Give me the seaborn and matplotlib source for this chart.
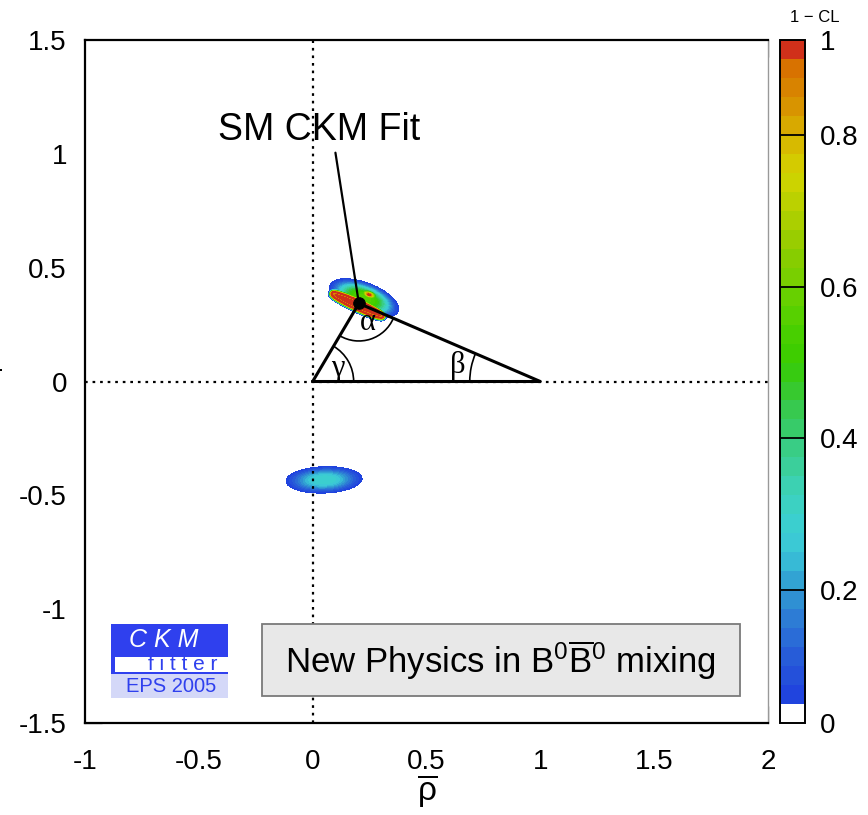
import numpy as np
import matplotlib
matplotlib.use("Agg")
import matplotlib.pyplot as plt
import seaborn as sns
from matplotlib.colors import ListedColormap, BoundaryNorm, LinearSegmentedColormap
from matplotlib.patches import Arc, Rectangle

# ---------------- data ----------------
# colour levels of 1 - CL
cl_levels = [0.0, 0.05, 0.075, 0.1, 0.125, 0.15, 0.175, 0.2, 0.225, 0.25, 0.275,
             0.3, 0.325, 0.35, 0.375, 0.4, 0.425, 0.45, 0.475, 0.5, 0.525, 0.55,
             0.575, 0.6, 0.625, 0.65, 0.675, 0.7, 0.725, 0.75, 0.775, 0.8, 0.825,
             0.85, 0.875, 0.9, 1.0]
cbar_ticks = [0, 0.2, 0.4, 0.6, 0.8, 1]
cbar_ticklabels = ["0", "0.2", "0.4", "0.6", "0.8", "1"]

# allowed regions (elliptical blobs)
blob_cx = [0.226, 0.248, 0.05]
blob_cy = [0.366, 0.382, -0.432]
blob_a = [0.160, 0.058, 0.167]
blob_b = [0.068, 0.026, 0.058]
blob_ang = [-21.0, -20.0, 2.0]
blob_peak = [0.56, 0.93, 0.30]
blob_pow = [3.0, 2.0, 2.5]

# high-CL ring around the SM solution
ring_cx, ring_cy = 0.197, 0.336
ring_a, ring_b, ring_ang = 0.118, 0.013, -24.5
ring_peak, ring_dip = 0.97, 0.21

# unitarity triangle
tri_rho = [0.0, 1.0, 0.203, 0.0]
tri_eta = [0.0, 0.0, 0.343, 0.0]
apex_rho, apex_eta = 0.203, 0.343
fit_label_xy = (0.03, 1.105)
fit_line_start = (0.100, 1.005)

xticks = [-1, -0.5, 0, 0.5, 1, 1.5, 2]
xticklabels = ["-1", "-0.5", "0", "0.5", "1", "1.5", "2"]
yticks = [-1.5, -1, -0.5, 0, 0.5, 1, 1.5]
yticklabels = ["-1.5", "-1", "-0.5", "0", "0.5", "1", "1.5"]

# ---------------- field ----------------
xg = np.linspace(-1, 2, 901)
yg = np.linspace(-1.5, 1.5, 901)
X, Y = np.meshgrid(xg, yg)
Z = np.zeros_like(X)


def rot(Xa, Ya, cx, cy, ang):
    t = np.deg2rad(ang)
    u = (Xa - cx) * np.cos(t) + (Ya - cy) * np.sin(t)
    v = -(Xa - cx) * np.sin(t) + (Ya - cy) * np.cos(t)
    return u, v


def blob(cx, cy, a, b, ang, peak, pw, floor=0.05):
    u, v = rot(X, Y, cx, cy, ang)
    r = np.sqrt((u / a) ** 2 + (v / b) ** 2)
    return peak * (peak / floor) ** (-(r ** pw))


for i in range(len(blob_cx)):
    Z = np.maximum(Z, blob(blob_cx[i], blob_cy[i], blob_a[i], blob_b[i],
                           blob_ang[i], blob_peak[i], blob_pow[i]))

# ring: distance to an ellipse curve
tt = np.linspace(0, 2 * np.pi, 600)
th = np.deg2rad(ring_ang)
ex = ring_cx + ring_a * np.cos(tt) * np.cos(th) - ring_b * np.sin(tt) * np.sin(th)
ey = ring_cy + ring_a * np.cos(tt) * np.sin(th) + ring_b * np.sin(tt) * np.cos(th)
ix = (xg > ring_cx - 0.25) & (xg < ring_cx + 0.25)
iy = (yg > ring_cy - 0.2) & (yg < ring_cy + 0.2)
Xs, Ys = np.meshgrid(xg[ix], yg[iy])
d2 = np.full(Xs.shape, 1e9)
for px, py in zip(ex, ey):
    d2 = np.minimum(d2, (Xs - px) ** 2 + (Ys - py) ** 2)
d = np.sqrt(d2)
us, vs = rot(Xs, Ys, ring_cx, ring_cy, ring_ang)
inside = (us / ring_a) ** 2 + (vs / ring_b) ** 2 < 1
ring = np.where(inside, ring_peak, ring_peak * np.exp(-(d / 0.015) ** 4))
ring = ring - ring_dip * np.exp(-(d / 0.0035) ** 2)
sub = Z[np.ix_(iy, ix)]
Z[np.ix_(iy, ix)] = np.maximum(sub, ring)
Z = np.clip(Z, 0, 0.99)

# ---------------- colours ----------------
anchors = [(0.05, '#1f3fe0'), (0.1, '#2656d8'), (0.15, '#2c74d6'), (0.2, '#309ad2'),
           (0.25, '#3ac6d8'), (0.3, '#3cd2cc'), (0.35, '#3cd0a8'), (0.4, '#38cc78'),
           (0.45, '#36c840'), (0.5, '#38cc00'), (0.55, '#4ed000'), (0.6, '#70d000'),
           (0.65, '#90cc00'), (0.7, '#b2d000'), (0.75, '#d2d400'), (0.8, '#d8b400'),
           (0.85, '#d88c00'), (0.9, '#d86c00')]
lo, hi = anchors[0][0], anchors[-1][0]
cm = LinearSegmentedColormap.from_list(
    "ckm", [((v - lo) / (hi - lo), c) for v, c in anchors])
band_colors = ['#ffffff']
for k in range(1, len(cl_levels) - 2):
    mid = 0.5 * (cl_levels[k] + cl_levels[k + 1])
    band_colors.append(cm((mid - lo) / (hi - lo)))
band_colors.append('#d0301a')
cmap = ListedColormap(band_colors)
norm = BoundaryNorm(cl_levels, cmap.N)

# ---------------- figure ----------------
sns.set_style("ticks")
plt.rcParams['font.family'] = ['Liberation Sans', 'DejaVu Sans']
plt.rcParams['axes.unicode_minus'] = False
plt.rcParams['mathtext.fontset'] = 'custom'
plt.rcParams['mathtext.rm'] = 'Liberation Sans'
plt.rcParams['mathtext.it'] = 'Liberation Sans:italic'
for key in ['text.color', 'axes.labelcolor', 'xtick.color', 'ytick.color']:
    plt.rcParams[key] = 'black'

fig = plt.figure(figsize=(8.68, 8.15), dpi=100)
ax = fig.add_axes([85 / 868, 1 - 723 / 815, 683 / 868, 683 / 815])
cax = fig.add_axes([780 / 868, 1 - 723 / 815, 25 / 868, 683 / 815])

cf = ax.contourf(X, Y, Z, levels=cl_levels, cmap=cmap, norm=norm, zorder=1)

ax.axvline(0, color='black', ls=(0, (1.2, 2.2)), lw=1.6, zorder=2)
ax.axhline(0, color='black', ls=(0, (1.2, 2.2)), lw=1.6, zorder=2)

sns.lineplot(x=tri_rho, y=tri_eta, sort=False, estimator=None, color='black',
             lw=2.2, ax=ax, zorder=4)
ax.plot([fit_line_start[0], apex_rho], [fit_line_start[1], apex_eta],
        color='black', lw=1.6, zorder=4)
sns.scatterplot(x=[apex_rho], y=[apex_eta], color='black', s=70, ax=ax, zorder=5,
                edgecolor='black')

ang_apex = np.degrees(np.arctan2(apex_eta, apex_rho))
ang_beta = np.degrees(np.arctan2(apex_eta, apex_rho - 1.0))
ax.add_patch(Arc((0, 0), 0.36, 0.36, theta1=0, theta2=ang_apex, color='black',
                 lw=1.2, zorder=4))
ax.add_patch(Arc((1, 0), 0.62, 0.62, theta1=ang_beta, theta2=180, color='black',
                 lw=1.2, zorder=4))
a1 = np.degrees(np.arctan2(-apex_eta, -apex_rho)) % 360
a2 = np.degrees(np.arctan2(-apex_eta, 1 - apex_rho)) % 360
ax.add_patch(Arc((apex_rho, apex_eta), 0.33, 0.33, theta1=a1, theta2=a2,
                 color='black', lw=1.2, zorder=4))
gfont = dict(family=['Liberation Serif', 'DejaVu Serif'], fontsize=22, zorder=6)
ax.text(0.112, 0.058, 'γ', ha='center', va='center', **gfont)
ax.text(0.637, 0.070, 'β', ha='center', va='center', **gfont)
ax.text(0.243, 0.258, 'α', ha='center', va='center', **gfont)

ax.text(fit_label_xy[0], fit_label_xy[1], 'SM CKM Fit', fontsize=27,
        ha='center', va='center', zorder=6)

# New physics box
ax.add_patch(Rectangle((-0.223, -1.381), 2.1, 0.316, facecolor='#e8e8e8',
                       edgecolor='#7a7a7a', lw=1.3, zorder=6))
ax.text(0.827, -1.225, r'New Physics in B$^0\overline{\mathrm{B}}^0$ mixing',
        fontsize=25, ha='center', va='center', zorder=7)

# CKMfitter logo
blue = '#2f40ee'
ax.add_patch(Rectangle((-0.886, -1.285), 0.514, 0.22, facecolor=blue,
                       edgecolor='none', zorder=6))
ax.add_patch(Rectangle((-0.869, -1.274), 0.497, 0.062, facecolor='white',
                       edgecolor='none', zorder=7))
ax.add_patch(Rectangle((-0.886, -1.390), 0.514, 0.105, facecolor='#d4d8f8',
                       edgecolor='none', zorder=6))
ax.text(-0.652, -1.136, 'C K M', color='white', fontsize=18, style='italic',
        ha='center', va='center', zorder=8)
ax.text(-0.572, -1.243, 'f i t t e r', color=blue, fontsize=15,
        ha='center', va='center', zorder=8)
ax.text(-0.622, -1.340, 'EPS 2005', color=blue, fontsize=14.5,
        ha='center', va='center', zorder=8)

ax.set_xlim(-1, 2)
ax.set_ylim(-1.5, 1.5)
ax.set_xticks(xticks)
ax.set_xticklabels(xticklabels)
ax.set_yticks(yticks)
ax.set_yticklabels(yticklabels)
ax.set_xticks(np.arange(-1, 2.001, 0.1), minor=True)
ax.set_yticks(np.arange(-1.5, 1.501, 0.1), minor=True)
ax.tick_params(which='major', direction='in', length=12, width=0.9,
               top=True, right=False, labelsize=20, color='#333333')
ax.tick_params(axis='x', which='major', pad=19)
ax.tick_params(axis='y', which='major', pad=13)
ax.tick_params(which='minor', direction='in', length=6, width=0.9,
               top=True, right=False, color='#333333')
for s in ['left', 'bottom', 'top']:
    ax.spines[s].set_linewidth(1.6)
    ax.spines[s].set_color('black')
ax.spines['right'].set_linewidth(1.0)
ax.spines['right'].set_color('#999999')
ax.spines['right'].set_visible(True)
ax.spines['top'].set_visible(True)

ax.set_xlabel(r'$\overline{\mathrm{ρ}}$', fontsize=24, va='center')
ax.xaxis.set_label_coords(0.502, -0.099)
ax.set_ylabel(r'$\overline{\mathrm{η}}$', fontsize=24, rotation=0, ha='center',
              va='center')
ax.yaxis.set_label_coords(-0.137, 0.497)

# colour bar
cb = fig.colorbar(cf, cax=cax, ticks=cbar_ticks)
cb.set_ticklabels(cbar_ticklabels)
cb.outline.set_linewidth(1.4)
cb.outline.set_edgecolor('black')
cax.minorticks_off()
cax.tick_params(length=0, labelsize=20, pad=11)
for t in cbar_ticks[1:-1]:
    cax.axhline(t, color='black', lw=1.3)
fig.text(815 / 868, 1 - 18 / 815, '1 − CL', fontsize=12, ha='center', va='center')

fig.savefig('out.png', dpi=100)
